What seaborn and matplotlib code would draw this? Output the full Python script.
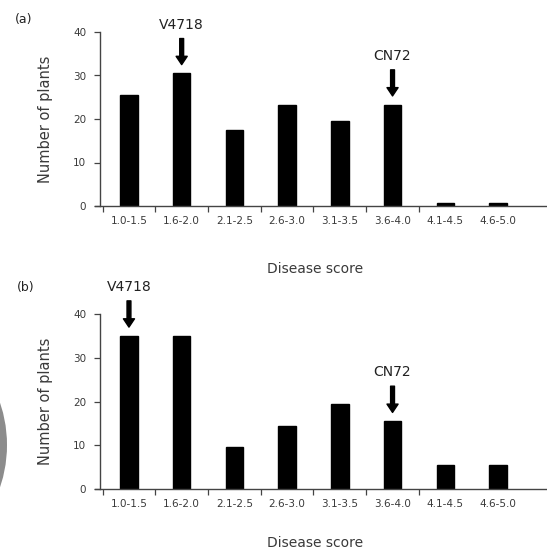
import matplotlib
matplotlib.use("Agg")
import matplotlib.pyplot as plt
from matplotlib.patches import Ellipse
import numpy as np
import seaborn as sns

categories = ["1.0-1.5", "1.6-2.0", "2.1-2.5", "2.6-3.0", "3.1-3.5", "3.6-4.0", "4.1-4.5", "4.6-5.0"]
plants_a = [25.5, 30.5, 17.5, 23.3, 19.5, 23.3, 0.8, 0.8]
plants_b = [35, 35, 9.5, 14.3, 19.5, 15.5, 5.5, 5.5]
yticks = [0, 10, 20, 30, 40]
# (label, category index) of the parent lines marked with arrows
marks_a = [("V4718", 1), ("CN72", 5)]
marks_b = [("V4718", 0), ("CN72", 5)]

sns.set_style("white")
plt.rcParams["font.family"] = ["DejaVu Sans"]

W, H = 547, 552
fig = plt.figure(figsize=(W / 100, H / 100), dpi=100)

ax_a = fig.add_axes([94.7 / W, (H - 206) / H, (W - 94.7) / W, 174 / H])
ax_b = fig.add_axes([94.7 / W, (H - 489) / H, (W - 94.7) / W, 175 / H])

axis_col = "#444444"
text_col = "#3a3a3a"


def draw_panel(ax, values, marks, xlabel_y):
    sns.barplot(x=categories, y=values, color="black", width=0.33,
                saturation=1, edgecolor="black", ax=ax)
    ax.set_xlim(-0.65, 7.93)
    ax.set_ylim(0, 40)
    sns.despine(ax=ax)
    ax.spines["left"].set_position(("data", -0.55))
    ax.spines["left"].set_bounds(0, 40)
    for s in ("left", "bottom"):
        ax.spines[s].set_color(axis_col)
        ax.spines[s].set_linewidth(1.0)
    ax.set_yticks(yticks)
    ax.tick_params(axis="y", left=True, length=4, width=0.9, color=axis_col,
                   labelsize=7.5, labelcolor=text_col, pad=6)
    ax.set_xticks(range(len(categories)))
    ax.set_xticklabels(categories)
    ax.set_xticks(np.arange(len(categories) - 1) - 0.5, minor=True)
    ax.tick_params(axis="x", which="major", bottom=True, length=0,
                   labelsize=7.5, labelcolor=text_col, pad=7)
    ax.tick_params(axis="x", which="minor", bottom=True, length=4,
                   width=0.9, color=axis_col)
    ax.set_xlabel("Disease score", fontsize=10, color=text_col)
    ax.set_ylabel("Number of plants", fontsize=10.5, color=text_col)
    ax.xaxis.set_label_coords(0.487, xlabel_y)
    ax.yaxis.set_label_coords(-0.092, 0.5)
    ax.grid(False)
    for label, i in marks:
        v = values[i]
        ax.annotate("", xy=(i, v + 2), xytext=(i, v + 8),
                    arrowprops=dict(facecolor="black", edgecolor="black",
                                    width=2.8, headwidth=8, headlength=6,
                                    shrink=0),
                    annotation_clip=False)
        ax.text(i, v + 11.2, label, ha="center", va="center", fontsize=10,
                color="#222222", clip_on=False)


draw_panel(ax_a, plants_a, marks_a, -0.32)
draw_panel(ax_b, plants_b, marks_b, -0.27)

fig.text(15 / W, 1 - 20 / H, "(a)", fontsize=9, color="#222222", va="center")
fig.text(17 / W, 1 - 288 / H, "(b)", fontsize=9, color="#222222", va="center")

# grey scanning artefact on the left edge of panel (b)
fig.patches.append(Ellipse((-125 / W, 1 - 445 / H), 264 / W, 264 / H,
                           transform=fig.transFigure, facecolor="#8c8c8c",
                           edgecolor="none", zorder=-1))

fig.savefig("out.png", dpi=100)
